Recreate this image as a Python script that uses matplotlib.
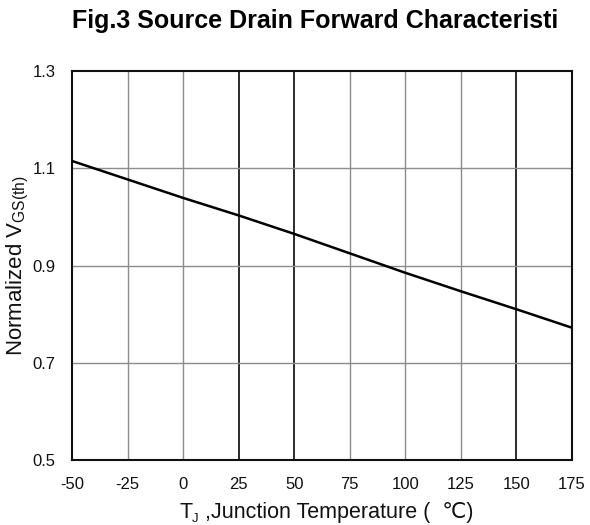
import matplotlib
matplotlib.use('Agg')
import matplotlib.pyplot as plt
import numpy as np

matplotlib.rcParams['font.family'] = ['Liberation Sans', 'DejaVu Sans']
matplotlib.rcParams['axes.unicode_minus'] = False
matplotlib.rcParams['mathtext.fontset'] = 'custom'
matplotlib.rcParams['mathtext.rm'] = 'Liberation Sans'
matplotlib.rcParams['mathtext.it'] = 'Liberation Sans:italic'

# 结温 vs 归一化阈值电压
temp = [-50, -25, 0, 25, 50, 75, 100, 125, 150, 175]
vgs_norm = [1.115, 1.077, 1.039, 1.003, 0.965, 0.925, 0.885, 0.847, 0.810, 0.772]

x_ticks = [-50, -25, 0, 25, 50, 75, 100, 125, 150, 175]
y_ticks = [0.5, 0.7, 0.9, 1.1, 1.3]
dark_lines = [25, 50, 150]

W, H = 590, 525
fig = plt.figure(figsize=(W / 100, H / 100), dpi=100)
ax = fig.add_axes([72 / W, 1 - 460 / H, 500 / W, 389 / H])

for t in x_ticks[1:-1]:
    if t in dark_lines:
        ax.axvline(t, color='#1a1a1a', lw=1.3, zorder=1)
    else:
        ax.axvline(t, color='#8c8c8c', lw=1.0, zorder=1)
for v in y_ticks[1:-1]:
    ax.axhline(v, color='#8c8c8c', lw=1.0, zorder=1)

ax.plot(temp, vgs_norm, color='black', lw=1.8, zorder=3)

ax.set_xlim(-50, 175)
ax.set_ylim(0.5, 1.3)
ax.set_xticks(x_ticks)
ax.set_yticks(y_ticks)
ax.set_yticklabels(['0.5', '0.7', '0.9', '1.1', '1.3'])
ax.tick_params(length=0, labelsize=12, pad=12, labelcolor='#111111')
for s in ax.spines.values():
    s.set_linewidth(1.5)
    s.set_color('#111111')

ax.set_ylabel(r'Normalized V$_{\mathrm{GS(th)}}$', fontsize=16, labelpad=1, color='#111111')

# x轴标签: T_J ,Junction Temperature ( ℃)
yb = 1 - 518 / H
t1 = fig.text(179 / W, yb, 'T', fontsize=15.5, ha='left', va='baseline', color='#111111')
t2 = ax.annotate('J', xy=(1, yb - 4 / H), xycoords=(t1, 'figure fraction'),
                 fontsize=9.5, ha='left', va='baseline', color='#111111')
t3 = ax.annotate(' ,Junction Temperature (  ℃)', xy=(1, yb), xycoords=(t2, 'figure fraction'),
                 fontsize=15.5, ha='left', va='baseline', color='#111111')

fig.text(72 / W, 1 - 21 / H, 'Fig.3 Source Drain Forward Characteristi',
         fontsize=18, fontweight='bold', ha='left', va='center')

plt.savefig('out.png', dpi=100)
